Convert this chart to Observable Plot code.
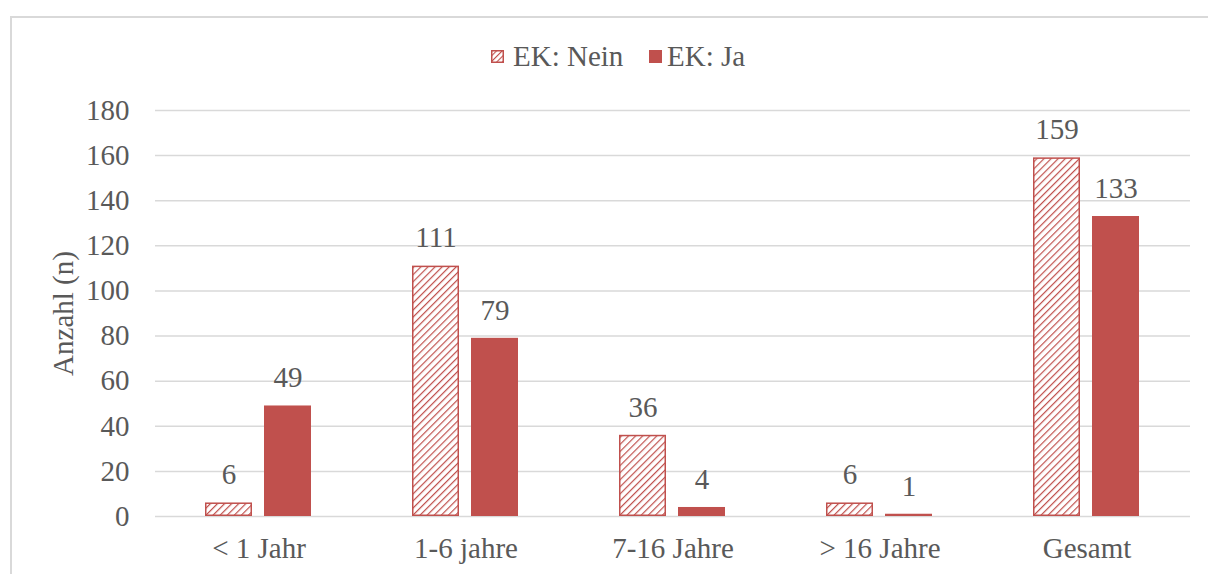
<!DOCTYPE html>
<html>
<head>
<meta charset="utf-8">
<script src="https://cdn.jsdelivr.net/npm/d3@7"></script>
<script src="https://cdn.jsdelivr.net/npm/@observablehq/plot@0.6"></script>
<style>
  html, body { margin: 0; padding: 0; background: #fff; overflow: hidden; width: 1208px; height: 574px; font-family: "Liberation Serif", Times, serif; }
  #frame { position: absolute; left: 10px; top: 16px; width: 1260px; height: 620px; border: 2px solid #d9d9d9; box-sizing: border-box; }
  .lg { position: absolute; top: 38px; height: 36px; display: flex; align-items: center;
    font-family: "Liberation Serif", Times, serif; font-size: 29px; color: #595959; white-space: nowrap; }
  .sw { width: 13px; height: 13px; box-sizing: border-box; display: block; }
  #chart { position: absolute; left: 0; top: 90px; }
  #chart svg, #chart svg text { font-family: "Liberation Serif", Times, serif !important; }
</style>
</head>
<body>
<div id="frame"></div>
<div class="lg" style="left:491px"><svg class="sw" width="13" height="13" viewBox="0 0 13 13"><defs><pattern id="hatchL" patternUnits="userSpaceOnUse" width="4" height="4" patternTransform="rotate(45)"><rect width="4" height="4" fill="#fff"/><line x1="0" y1="0" x2="0" y2="4" stroke="#C0504D" stroke-width="2.2"/></pattern></defs><rect x="0.75" y="0.75" width="11.5" height="11.5" fill="url(#hatchL)" stroke="#C0504D" stroke-width="1.5"/></svg></div>
<div class="lg" style="left:513px"><span>EK: Nein</span></div>
<div class="lg" style="left:649px"><div class="sw" style="background:#C0504D"></div></div>
<div class="lg" style="left:667px"><span>EK: Ja</span></div>
<div id="chart"></div>
<script>
const categories = ["< 1 Jahr", "1-6 jahre", "7-16 Jahre", "> 16 Jahre", "Gesamt"];
const series = ["Nein", "Ja"];
const neinValues = [6, 111, 36, 6, 159];
const jaValues = [49, 79, 4, 1, 133];
const yTicks = [0, 20, 40, 60, 80, 100, 120, 140, 160, 180];

const data = [];
categories.forEach((c, i) => {
  data.push({cat: c, series: "Nein", value: neinValues[i]});
  data.push({cat: c, series: "Ja", value: jaValues[i]});
});

const textColor = "#595959";
const red = "#C0504D";
const fs = 29;

const plot = Plot.plot({
  width: 1208,
  height: 484,
  marginTop: 20,
  marginBottom: 58,
  marginLeft: 154,
  marginRight: 18,
  style: {fontFamily: "Liberation Serif, Times, serif", fontSize: fs + "px", color: textColor, background: "transparent"},
  fx: {domain: categories, padding: 0, label: null},
  x: {domain: series, paddingInner: 0.2, paddingOuter: 0.84, axis: null},
  y: {domain: [0, 180], axis: null},
  color: {type: "ordinal", domain: series, range: ["url(#hatch)", red]},
  marks: [
    Plot.ruleY(yTicks, {stroke: "#d9d9d9", strokeWidth: 1.5}),
    Plot.barY(data.filter(d => d.series === "Nein"), {fx: "cat", x: "series", y: "value", fill: "series",
      stroke: red, strokeWidth: 1.5, inset: 0.75}),
    Plot.barY(data.filter(d => d.series === "Ja"), {fx: "cat", x: "series", y: "value", fill: "series"}),
    Plot.text(data, {fx: "cat", x: "series", y: "value", text: d => String(d.value), dy: -28, fontSize: fs, fill: textColor}),
    Plot.axisY({ticks: yTicks, tickSize: 0, tickPadding: 26, fontSize: fs, label: null, fill: textColor}),
    Plot.axisFx({anchor: "bottom", tickSize: 0, tickPadding: 21, fontSize: fs, label: null, fill: textColor}),
    Plot.text(["Anzahl (n)"], {frameAnchor: "left", textAnchor: "middle", dx: -92, rotate: -90, fontSize: fs, fill: textColor, facetAnchor: "left"})
  ]
});

const ns = "http://www.w3.org/2000/svg";
const defs = document.createElementNS(ns, "defs");
defs.innerHTML = '<pattern id="hatch" patternUnits="userSpaceOnUse" width="5" height="5" patternTransform="rotate(45)"><rect width="5" height="5" fill="#fff"/><line x1="0" y1="0" x2="0" y2="5" stroke="#C0504D" stroke-width="2.4"/></pattern>';
plot.insertBefore(defs, plot.firstChild);
document.getElementById("chart").appendChild(plot);
</script>
</body>
</html>
